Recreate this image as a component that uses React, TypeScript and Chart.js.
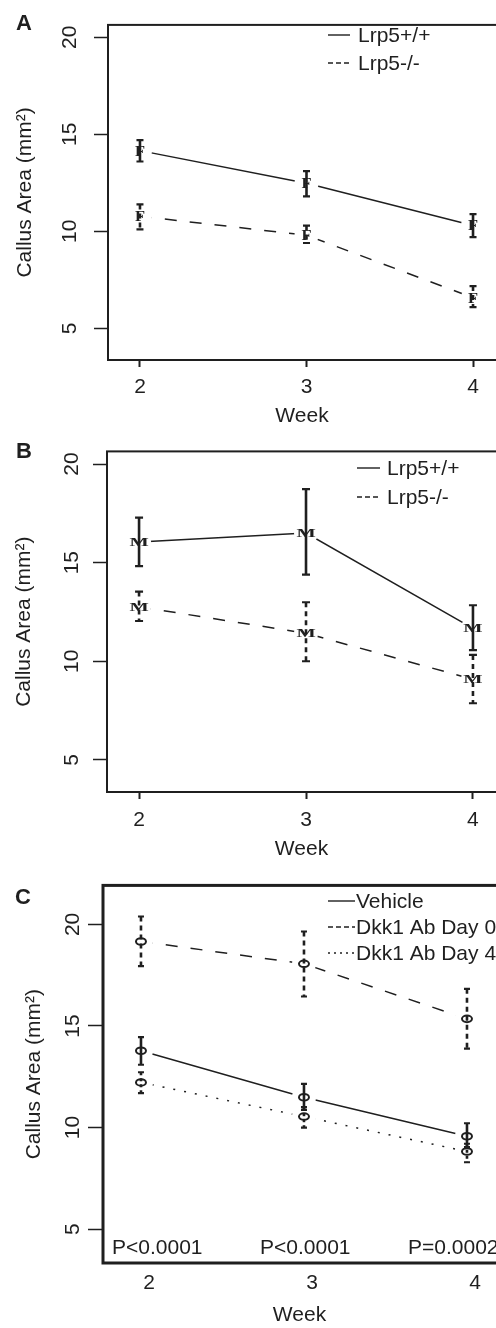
import React, { useEffect, useRef } from 'react';
import { Chart, registerables } from 'chart.js';

Chart.register(...registerables);
Chart.defaults.font.family = "'Liberation Sans', Arial, sans-serif";

const INK = '#1f1f1f';

// ---- shared ----
const weeks = [2, 3, 4];
const yTickValues = [5, 10, 15, 20];
const yAxisTitle = 'Callus Area (mm²)';
const xAxisTitle = 'Week';

// ---- Panel A (female) ----
const aLabels = ['Lrp5+/+', 'Lrp5-/-'];
const aWildMean = [14.16, 12.48, 10.3];
const aWildLow = [13.6, 11.8, 9.7];
const aWildHigh = [14.7, 13.1, 10.89];
const aKoMean = [10.78, 9.8, 6.58];
const aKoLow = [10.1, 9.4, 6.09];
const aKoHigh = [11.39, 10.3, 7.18];

// ---- Panel B (male) ----
const bLabels = ['Lrp5+/+', 'Lrp5-/-'];
const bWildMean = [16.04, 16.5, 11.67];
const bWildLow = [14.82, 14.39, 10.56];
const bWildHigh = [17.28, 18.73, 12.84];
const bKoMean = [12.76, 11.42, 9.08];
const bKoLow = [12.04, 10.0, 7.87];
const bKoHigh = [13.53, 12.99, 10.32];

// ---- Panel C (Dkk1 antibody) ----
const cLabels = ['Vehicle', 'Dkk1 Ab Day 0', 'Dkk1 Ab Day 4'];
const cVehicleMean = [13.78, 11.49, 9.57];
const cVehicleLow = [13.09, 10.87, 9.03];
const cVehicleHigh = [14.45, 12.15, 10.21];
const cDay0Mean = [19.16, 18.06, 15.35];
const cDay0Low = [17.95, 16.45, 13.88];
const cDay0High = [20.39, 19.65, 16.83];
const cDay4Mean = [12.22, 10.54, 8.82];
const cDay4Low = [11.69, 9.99, 8.29];
const cDay4High = [12.72, 11.0, 9.2];
const cPValues = ['P<0.0001', 'P<0.0001', 'P=0.0002'];

type Style = 'solid' | 'dashed' | 'dotted';
const lineDash: Record<Style, number[]> = { solid: [], dashed: [12, 13], dotted: [2, 9] };
const barDash: Record<Style, number[]> = { solid: [], dashed: [5, 4], dotted: [3, 3] };
const legendDash: Record<Style, number[]> = { solid: [], dashed: [5, 3], dotted: [2, 4] };

type Series = { label: string; mean: number[]; low: number[]; high: number[]; style: Style };

type Panel = {
  letter: string;
  height: number;
  series: Series[];
  marker: string;
  markerSize: number;
  markerStretch: number;
  capHalf: number;
  gap: number;
  boxLeft: number;
  boxTop: number;
  boxBottom: number;
  boxWidth: number;
  xMin: number;
  xMax: number;
  labelShift: number;
  yMin: number;
  yMax: number;
  yTickLen: number;
  yTickPad: number;
  yTitlePad: number;
  xTickLen: number;
  xTickPad: number;
  xTitlePad: number;
  legendX1: number;
  legendX2: number;
  legendTextX: number;
  legendRows: number[];
  letterPos: [number, number];
  pValues?: string[];
};

const panels: Panel[] = [
  {
    letter: 'A', height: 430,
    series: [
      { label: aLabels[0], mean: aWildMean, low: aWildLow, high: aWildHigh, style: 'solid' },
      { label: aLabels[1], mean: aKoMean, low: aKoLow, high: aKoHigh, style: 'dashed' },
    ],
    marker: 'F', markerSize: 15, markerStretch: 1.1, capHalf: 3.5, gap: 12,
    boxLeft: 108, boxTop: 11, boxBottom: 360, boxWidth: 2,
    xMin: 1.808, xMax: 4.138, labelShift: 0, yMin: 3.37, yMax: 20.64,
    yTickLen: 14, yTickPad: 12.3, yTitlePad: 12.4, xTickLen: 7, xTickPad: 7.7, xTitlePad: 1.4,
    legendX1: 328, legendX2: 350, legendTextX: 358, legendRows: [35, 63], letterPos: [24, 24],
  },
  {
    letter: 'B', height: 440,
    series: [
      { label: bLabels[0], mean: bWildMean, low: bWildLow, high: bWildHigh, style: 'solid' },
      { label: bLabels[1], mean: bKoMean, low: bKoLow, high: bKoHigh, style: 'dashed' },
    ],
    marker: 'M', markerSize: 12, markerStretch: 1.7, capHalf: 4, gap: 12,
    boxLeft: 107, boxTop: 13, boxBottom: 362, boxWidth: 2,
    xMin: 1.808, xMax: 4.138, labelShift: 0, yMin: 3.37, yMax: 20.64,
    yTickLen: 14, yTickPad: 8.8, yTitlePad: 11.4, xTickLen: 7, xTickPad: 8.7, xTitlePad: 8.4,
    legendX1: 357, legendX2: 380, legendTextX: 387, legendRows: [38, 67], letterPos: [24, 22],
  },
  {
    letter: 'C', height: 458,
    series: [
      { label: cLabels[0], mean: cVehicleMean, low: cVehicleLow, high: cVehicleHigh, style: 'solid' },
      { label: cLabels[1], mean: cDay0Mean, low: cDay0Low, high: cDay0High, style: 'dashed' },
      { label: cLabels[2], mean: cDay4Mean, low: cDay4Low, high: cDay4High, style: 'dotted' },
    ],
    marker: 'o', markerSize: 0, markerStretch: 1, capHalf: 3, gap: 12,
    boxLeft: 103, boxTop: 15, boxBottom: 393, boxWidth: 3,
    xMin: 1.767, xMax: 4.178, labelShift: 0.049, yMin: 3.33, yMax: 21.92,
    yTickLen: 15, yTickPad: 2.8, yTitlePad: 21.4, xTickLen: 0, xTickPad: 7.7, xTitlePad: 0.4,
    legendX1: 328, legendX2: 355, legendTextX: 356, legendRows: [31, 57, 83], letterPos: [23, 28],
    pValues: cPValues,
  },
];

function makePlugin(p: Panel) {
  return {
    id: 'panelDecor' + p.letter,
    afterDatasetsDraw(chart: any) {
      const ctx = chart.ctx as CanvasRenderingContext2D;
      const yScale = chart.scales.y;
      ctx.save();
      // gaps around points (R type "b")
      p.series.forEach((_s, di) => {
        chart.getDatasetMeta(di).data.forEach((pt: any) => {
          ctx.fillStyle = '#ffffff';
          ctx.beginPath();
          ctx.arc(pt.x, pt.y, p.gap, 0, Math.PI * 2);
          ctx.fill();
        });
      });
      // error bars
      p.series.forEach((s, di) => {
        chart.getDatasetMeta(di).data.forEach((pt: any, i: number) => {
          const yl = yScale.getPixelForValue(s.low[i]);
          const yh = yScale.getPixelForValue(s.high[i]);
          ctx.strokeStyle = INK;
          ctx.lineWidth = 2.6;
          ctx.setLineDash(barDash[s.style]);
          ctx.beginPath();
          ctx.moveTo(pt.x, yh);
          ctx.lineTo(pt.x, yl);
          ctx.stroke();
          ctx.setLineDash([]);
          ctx.lineWidth = 2.2;
          ctx.beginPath();
          ctx.moveTo(pt.x - p.capHalf, yh);
          ctx.lineTo(pt.x + p.capHalf, yh);
          ctx.moveTo(pt.x - p.capHalf, yl);
          ctx.lineTo(pt.x + p.capHalf, yl);
          ctx.stroke();
        });
      });
      // markers
      p.series.forEach((_s, di) => {
        chart.getDatasetMeta(di).data.forEach((pt: any) => {
          if (p.marker === 'o') {
            ctx.strokeStyle = INK;
            ctx.lineWidth = 2;
            ctx.beginPath();
            ctx.ellipse(pt.x, pt.y, 5, 3.3, 0, 0, Math.PI * 2);
            ctx.stroke();
          } else {
            ctx.save();
            ctx.translate(pt.x, pt.y);
            ctx.scale(p.markerStretch, 1);
            ctx.fillStyle = INK;
            ctx.font = `bold ${p.markerSize}px 'Liberation Serif', serif`;
            ctx.textAlign = 'center';
            ctx.textBaseline = 'alphabetic';
            ctx.fillText(p.marker, 0, p.markerSize * 0.33);
            ctx.restore();
          }
        });
      });
      ctx.restore();
    },
    afterDraw(chart: any) {
      const ctx = chart.ctx as CanvasRenderingContext2D;
      const area = chart.chartArea;
      ctx.save();
      // box
      ctx.strokeStyle = INK;
      ctx.lineWidth = p.boxWidth;
      ctx.setLineDash([]);
      ctx.strokeRect(area.left, area.top, area.right - area.left + 20, area.bottom - area.top);
      // legend
      ctx.font = "21px 'Liberation Sans', Arial, sans-serif";
      ctx.textBaseline = 'middle';
      ctx.textAlign = 'left';
      p.series.forEach((s, i) => {
        const y = p.legendRows[i];
        ctx.strokeStyle = INK;
        ctx.lineWidth = 1.4;
        ctx.setLineDash(legendDash[s.style]);
        ctx.beginPath();
        ctx.moveTo(p.legendX1, y);
        ctx.lineTo(p.legendX2, y);
        ctx.stroke();
        ctx.setLineDash([]);
        ctx.fillStyle = INK;
        ctx.fillText(s.label, p.legendTextX, y + 1);
      });
      // p-values
      if (p.pValues) {
        ctx.textBaseline = 'alphabetic';
        p.pValues.forEach((t, i) => {
          ctx.fillText(t, area.left + 9 + i * 148, area.bottom - 9);
        });
      }
      // panel letter
      ctx.font = "bold 22px 'Liberation Sans', Arial, sans-serif";
      ctx.textAlign = 'center';
      ctx.textBaseline = 'middle';
      ctx.fillText(p.letter, p.letterPos[0], p.letterPos[1]);
      ctx.restore();
    },
  };
}

function buildConfig(p: Panel): any {
  const font = { size: 21, family: "'Liberation Sans', Arial, sans-serif" };
  return {
    type: 'line',
    data: {
      datasets: p.series.map((s) => ({
        label: s.label,
        data: weeks.map((w, i) => ({ x: w, y: s.mean[i] })),
        borderColor: INK,
        borderWidth: 1.5,
        borderDash: lineDash[s.style],
        pointRadius: 0,
        fill: false,
        tension: 0,
        xAxisID: 'x',
        yAxisID: 'y',
      })),
    },
    options: {
      responsive: false,
      animation: false,
      devicePixelRatio: 1,
      layout: { padding: { top: p.boxTop, left: 0, right: 0, bottom: 0 } },
      plugins: { legend: { display: false }, tooltip: { enabled: false } },
      scales: {
        x: { type: 'linear', display: false, min: p.xMin, max: p.xMax },
        xl: {
          type: 'linear',
          position: 'bottom',
          min: p.xMin - p.labelShift,
          max: p.xMax - p.labelShift,
          afterBuildTicks: (sc: any) => { sc.ticks = weeks.map((v) => ({ value: v })); },
          afterFit: (sc: any) => { sc.height = p.height - p.boxBottom; },
          grid: {
            drawOnChartArea: false,
            drawTicks: p.xTickLen > 0,
            tickLength: p.xTickLen,
            tickColor: INK,
            tickWidth: 2,
          },
          border: { display: false },
          ticks: { padding: p.xTickPad, font, color: INK, maxRotation: 0, autoSkip: false },
          title: { display: true, text: xAxisTitle, font, color: INK, padding: { top: 0, bottom: p.xTitlePad } },
        },
        y: {
          type: 'linear',
          position: 'left',
          min: p.yMin,
          max: p.yMax,
          afterBuildTicks: (sc: any) => { sc.ticks = yTickValues.map((v) => ({ value: v })); },
          afterFit: (sc: any) => { sc.width = p.boxLeft; },
          grid: { drawOnChartArea: false, tickLength: p.yTickLen, tickColor: INK, tickWidth: 1.5 },
          border: { display: false },
          ticks: {
            padding: p.yTickPad,
            minRotation: 90,
            maxRotation: 90,
            crossAlign: 'center',
            font,
            color: INK,
            autoSkip: false,
          },
          title: { display: true, text: yAxisTitle, font, color: INK, padding: { top: p.yTitlePad, bottom: 0 } },
        },
      },
    },
    plugins: [makePlugin(p)],
  };
}

function PanelChart({ p }: { p: Panel }) {
  const ref = useRef<HTMLCanvasElement>(null);
  useEffect(() => {
    if (!ref.current) return;
    const chart = new Chart(ref.current, buildConfig(p));
    return () => chart.destroy();
  }, [p]);
  return (
    <canvas
      ref={ref}
      width={496}
      height={p.height}
      style={{ display: 'block', width: 496, height: p.height }}
    />
  );
}

export default function App() {
  return (
    <div style={{ position: 'absolute', left: 0, top: 0, width: 496, background: '#ffffff' }}>
      {panels.map((p) => (
        <PanelChart key={p.letter} p={p} />
      ))}
    </div>
  );
}
